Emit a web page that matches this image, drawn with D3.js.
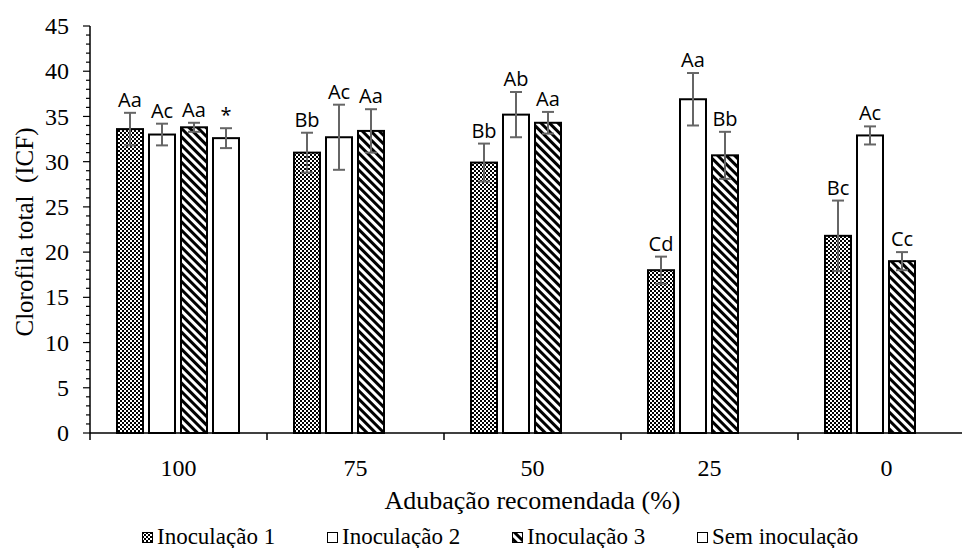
<!DOCTYPE html>
<html>
<head>
<meta charset="utf-8">
<script src="https://cdn.jsdelivr.net/npm/d3@7/dist/d3.min.js"></script>
<style>
  html, body { margin: 0; padding: 0; background: #fff; }
  svg { display: block; }
</style>
</head>
<body>
<script>
// Fertilisation levels (% of recommended dose)
const categories = ["100", "75", "50", "25", "0"];
const seriesNames = ["Inoculação 1", "Inoculação 2", "Inoculação 3", "Sem inoculação"];

// Total chlorophyll index (ICF) means
const inoc1 = [33.6, 31.0, 29.9, 18.0, 21.8];
const inoc2 = [33.0, 32.7, 35.2, 36.9, 32.9];
const inoc3 = [33.8, 33.4, 34.3, 30.7, 19.0];
const semInoc = [32.6, null, null, null, null];

// Standard errors
const inoc1Err = [1.8, 2.2, 2.1, 1.5, 3.9];
const inoc2Err = [1.2, 3.6, 2.5, 2.9, 1.0];
const inoc3Err = [0.5, 2.4, 1.2, 2.6, 1.0];
const semInocErr = [1.1, null, null, null, null];

// Mean-comparison letters
const inoc1Lbl = ["Aa", "Bb", "Bb", "Cd", "Bc"];
const inoc2Lbl = ["Ac", "Ac", "Ab", "Aa", "Ac"];
const inoc3Lbl = ["Aa", "Aa", "Aa", "Bb", "Cc"];
const semInocLbl = ["*", "", "", "", ""];

const yTicks = [0, 5, 10, 15, 20, 25, 30, 35, 40, 45];

const seriesData = [
  { name: seriesNames[0], vals: inoc1, err: inoc1Err, lbl: inoc1Lbl, fill: "url(#checker)" },
  { name: seriesNames[1], vals: inoc2, err: inoc2Err, lbl: inoc2Lbl, fill: "#fff" },
  { name: seriesNames[2], vals: inoc3, err: inoc3Err, lbl: inoc3Lbl, fill: "url(#stripes)" },
  { name: seriesNames[3], vals: semInoc, err: semInocErr, lbl: semInocLbl, fill: "#fff" }
];

const W = 962, H = 548;
const svg = d3.select("body").append("svg").attr("width", W).attr("height", H);
svg.append("rect").attr("width", W).attr("height", H).attr("fill", "#fff");

const defs = svg.append("defs");
// fine checkerboard fill
const chk = defs.append("pattern").attr("id", "checker")
  .attr("patternUnits", "userSpaceOnUse").attr("width", 4).attr("height", 4);
chk.append("rect").attr("width", 4).attr("height", 4).attr("fill", "#fff");
chk.append("rect").attr("width", 2).attr("height", 2).attr("fill", "#000");
chk.append("rect").attr("x", 2).attr("y", 2).attr("width", 2).attr("height", 2).attr("fill", "#000");
// wide downward diagonal stripes
const str = defs.append("pattern").attr("id", "stripes")
  .attr("patternUnits", "userSpaceOnUse").attr("width", 6).attr("height", 6)
  .attr("patternTransform", "rotate(-45)");
str.append("rect").attr("width", 6).attr("height", 6).attr("fill", "#fff");
str.append("rect").attr("width", 3).attr("height", 6).attr("fill", "#000");

const plotLeft = 90, plotRight = 975, plotTop = 26, plotBottom = 433;

const y = d3.scaleLinear().domain([0, 45]).range([plotBottom, plotTop]);
const x0 = d3.scaleBand().domain(categories).range([plotLeft, plotRight]).padding(0);
const x1 = d3.scaleBand().domain(seriesNames)
  .range([27, x0.bandwidth() - 28]).paddingInner(6 / 32).paddingOuter(0);

const serif = "'Liberation Serif', 'Times New Roman', serif";
const sans = "'Open Sans', 'Noto Sans', sans-serif";

// bars
seriesData.forEach(s => {
  categories.forEach((c, i) => {
    const v = s.vals[i];
    if (v == null) return;
    svg.append("rect")
      .attr("x", x0(c) + x1(s.name)).attr("y", y(v))
      .attr("width", x1.bandwidth()).attr("height", y(0) - y(v))
      .attr("fill", s.fill).attr("stroke", "#000").attr("stroke-width", 2);
  });
});

// error bars and letters
seriesData.forEach(s => {
  categories.forEach((c, i) => {
    const v = s.vals[i];
    if (v == null) return;
    const e = s.err[i];
    const cx = x0(c) + x1(s.name) + x1.bandwidth() / 2;
    const g = svg.append("g");
    const col = "#666";
    g.append("line").attr("x1", cx).attr("x2", cx).attr("y1", y(v - e)).attr("y2", y(v + e))
      .attr("stroke", col).attr("stroke-width", 2);
    [v - e, v + e].forEach(t => {
      g.append("line").attr("x1", cx - 6).attr("x2", cx + 6).attr("y1", y(t)).attr("y2", y(t))
        .attr("stroke", col).attr("stroke-width", 2);
    });
    g.append("text").attr("x", cx).attr("y", y(v + e) - 6)
      .attr("text-anchor", "middle").attr("font-family", sans).attr("font-size", 20)
      .attr("fill", "#000").text(s.lbl[i]);
  });
});

// y axis
const yAxis = svg.append("g").attr("transform", `translate(${plotLeft},0)`);
yAxis.append("line").attr("x1", 0).attr("x2", 0).attr("y1", y(0)).attr("y2", y(45))
  .attr("stroke", "#000").attr("stroke-width", 1.5);
d3.range(0, 46, 1).forEach(t => {
  const major = t % 5 === 0;
  yAxis.append("line").attr("x1", major ? -7 : -4).attr("x2", 0)
    .attr("y1", y(t)).attr("y2", y(t)).attr("stroke", "#000").attr("stroke-width", 1.2);
});
yAxis.selectAll("text.tick").data(yTicks).join("text")
  .attr("class", "tick").attr("x", -21).attr("y", d => y(d)).attr("dy", "0.34em")
  .attr("text-anchor", "end").attr("font-family", serif).attr("font-size", 24)
  .text(d => d);

// x axis
const xAxis = svg.append("g").attr("transform", `translate(0,${plotBottom})`);
xAxis.append("line").attr("x1", plotLeft).attr("x2", plotRight).attr("y1", 0).attr("y2", 0)
  .attr("stroke", "#000").attr("stroke-width", 1.5);
categories.forEach(c => {
  xAxis.append("line").attr("x1", x0(c)).attr("x2", x0(c)).attr("y1", 0).attr("y2", 7)
    .attr("stroke", "#000").attr("stroke-width", 1.5);
});
xAxis.append("line").attr("x1", plotRight).attr("x2", plotRight).attr("y1", 0).attr("y2", 7)
  .attr("stroke", "#000").attr("stroke-width", 1.5);
xAxis.selectAll("text").data(categories).join("text")
  .attr("x", d => x0(d) + x0.bandwidth() / 2).attr("y", 43)
  .attr("text-anchor", "middle").attr("font-family", serif).attr("font-size", 24)
  .text(d => d);

// axis titles
svg.append("text").attr("x", (plotLeft + plotRight) / 2).attr("y", 509)
  .attr("text-anchor", "middle").attr("font-family", serif).attr("font-size", 26)
  .text("Adubação recomendada (%)");
svg.append("text").attr("transform", `translate(33,232) rotate(-90)`)
  .attr("text-anchor", "middle").attr("font-family", serif).attr("font-size", 25)
  .style("white-space", "pre")
  .text("Clorofila total  (ICF)");

// legend
const legendX = [142, 327, 512, 697];
const legend = svg.append("g");
seriesData.forEach((s, i) => {
  const g = legend.append("g").attr("transform", `translate(${legendX[i]},532)`);
  g.append("rect").attr("x", 0.5).attr("y", 0.5).attr("width", 10).attr("height", 10)
    .attr("fill", s.fill).attr("stroke", "#000").attr("stroke-width", 1);
  g.append("text").attr("x", 15).attr("y", 12).attr("font-family", serif).attr("font-size", 23)
    .text(s.name);
});
</script>
</body>
</html>
